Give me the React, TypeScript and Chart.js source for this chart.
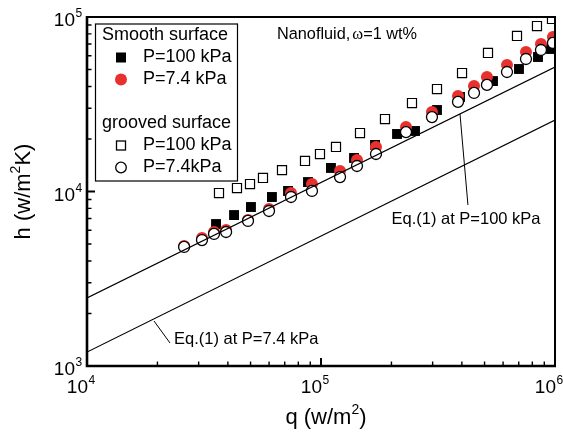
import React, { useEffect, useRef } from "react";
import { Chart, registerables } from "chart.js";

Chart.register(...registerables);

// ---------------- data ----------------
const smooth100Q = [35600, 42500, 50200, 61700, 72300, 88000, 110300, 138400, 170200, 211300, 252200, 313100, 392700, 543300, 701600, 845900, 961300];
const smooth100H = [6510, 7330, 8150, 9300, 10070, 11330, 13640, 15560, 18480, 21360, 22220, 29310, 34800, 42960, 50350, 58990, 65560];

const smooth74Q = [26000, 31000, 34900, 39300, 48750, 59950, 74450, 91500, 120600, 142500, 171800, 230800, 298000, 385000, 450700, 511900, 623500, 751600, 871000, 980000];
const smooth74H = [4870, 5410, 5860, 6020, 6870, 7940, 9800, 11040, 13110, 15150, 17990, 23400, 28550, 35260, 40230, 45300, 53080, 63000, 70000, 76800];

const grooved100Q = [36650, 43750, 49730, 56500, 68130, 85440, 99000, 115900, 146800, 187700, 244800, 313100, 400600, 517200, 688000, 837500, 970900];
const grooved100H = [9800, 10470, 11040, 11950, 13270, 14960, 16400, 17990, 21630, 26020, 32130, 38660, 47750, 62190, 77840, 88800, 97400];

const grooved74Q = [26000, 31000, 34900, 39300, 48750, 59950, 74450, 91500, 120600, 142500, 171800, 230800, 298000, 385000, 450700, 511900, 623500, 751600, 871000, 980000];
const grooved74H = [4810, 5270, 5710, 5860, 6780, 7730, 9300, 10070, 12100, 14000, 16400, 21900, 26700, 32600, 36700, 40800, 48400, 57450, 64700, 71000];

// Eq.(1) correlation lines
const eq100Q = [1e4, 1e6];
const eq100H = [2455, 51700];
const eq74Q = [1e4, 1e6];
const eq74H = [1202, 25700];

// axes
const xMin = 1e4, xMax = 1e6, yMin = 1e3, yMax = 1e5;
const xMajor = [1e4, 1e5, 1e6];
const xMajorExp = ["4", "5", "6"];
const yMajor = [1e3, 1e4, 1e5];
const yMajorExp = ["3", "4", "5"];
const minorMult = [2, 3, 4, 5, 6, 7, 8, 9];

// annotations (data space)
const eq100Label = "Eq.(1) at P=100 kPa";
const eq100LeaderQ = [392600, 424600];
const eq100LeaderH = [27800, 8370];
const eq100LabelAt = [416600, 6950];
const eq74Label = "Eq.(1) at P=7.4 kPa";
const eq74LeaderQ = [19330, 22630];
const eq74LeaderH = [1811, 1355];
const eq74LabelAt = [23540, 1428];
const titleAt = [64860, 78900];

const legendHeaders = ["Smooth surface", "grooved surface"];
const legendLabels = ["P=100 kPa", "P=7.4 kPa", "P=100 kPa", "P=7.4kPa"];

const RED = "#e8312e";
const FONT = '"Liberation Sans", Arial, Helvetica, sans-serif';
const SERIF = '"Liberation Serif", "Times New Roman", serif';

const pts = (q: number[], h: number[]) => q.map((v, i) => ({ x: v, y: h[i] }));

function drawRich(ctx: any, parts: { t: string; sup?: boolean }[], cx: number, cy: number, size: number, supSize: number) {
  const widths = parts.map((p) => {
    ctx.font = `${p.sup ? supSize : size}px ${FONT}`;
    return ctx.measureText(p.t).width;
  });
  const total = widths.reduce((s, w) => s + w, 0);
  let x = cx - total / 2;
  ctx.textAlign = "left";
  ctx.textBaseline = "middle";
  parts.forEach((p, i) => {
    ctx.font = `${p.sup ? supSize : size}px ${FONT}`;
    ctx.fillText(p.t, x, p.sup ? cy - size * 0.35 : cy);
    x += widths[i];
  });
}

function marker(ctx: any, kind: string, x: number, y: number) {
  ctx.save();
  ctx.lineWidth = 1.3;
  ctx.strokeStyle = "#000";
  if (kind === "fsq") {
    ctx.fillStyle = "#000";
    ctx.fillRect(x - 5, y - 5, 10, 10);
  } else if (kind === "rc") {
    ctx.fillStyle = RED;
    ctx.beginPath();
    ctx.arc(x, y, 6, 0, Math.PI * 2);
    ctx.fill();
  } else if (kind === "osq") {
    ctx.fillStyle = "#fff";
    ctx.fillRect(x - 4.5, y - 4.5, 9, 9);
    ctx.strokeRect(x - 4.5, y - 4.5, 9, 9);
  } else {
    ctx.fillStyle = "#fff";
    ctx.beginPath();
    ctx.arc(x, y, 5.3, 0, Math.PI * 2);
    ctx.fill();
    ctx.stroke();
  }
  ctx.restore();
}

const overlayPlugin = {
  id: "overlay",
  afterDatasetsDraw(chart: any) {
    const { ctx, chartArea: a, scales } = chart;
    const xs = scales.x;
    const ys = scales.y;
    ctx.save();
    ctx.fillStyle = "#000";
    ctx.strokeStyle = "#000";

    // frame
    ctx.lineWidth = 2;
    ctx.strokeRect(a.left, a.top, a.right - a.left, a.bottom - a.top);
    ctx.lineWidth = 2.6;
    ctx.beginPath();
    ctx.moveTo(a.left, a.top - 1);
    ctx.lineTo(a.left, a.bottom);
    ctx.lineTo(a.right + 1, a.bottom);
    ctx.stroke();

    // ticks
    ctx.lineWidth = 1.4;
    ctx.beginPath();
    for (let d = xMin; d < xMax; d *= 10) {
      minorMult.forEach((m) => {
        const px = xs.getPixelForValue(d * m);
        ctx.moveTo(px, a.bottom);
        ctx.lineTo(px, a.bottom - 4.5);
      });
    }
    for (let d = yMin; d < yMax; d *= 10) {
      minorMult.forEach((m) => {
        const py = ys.getPixelForValue(d * m);
        ctx.moveTo(a.left, py);
        ctx.lineTo(a.left + 4.5, py);
      });
    }
    ctx.stroke();
    ctx.lineWidth = 2;
    ctx.beginPath();
    xMajor.forEach((v) => {
      const px = xs.getPixelForValue(v);
      ctx.moveTo(px, a.bottom);
      ctx.lineTo(px, a.bottom - 8);
    });
    yMajor.forEach((v) => {
      const py = ys.getPixelForValue(v);
      ctx.moveTo(a.left, py);
      ctx.lineTo(a.left + 8, py);
    });
    ctx.stroke();

    // tick labels
    ctx.textBaseline = "middle";
    xMajor.forEach((v, i) => {
      const px = xs.getPixelForValue(v);
      const py = a.bottom + 22;
      ctx.font = `19px ${FONT}`;
      ctx.textAlign = "right";
      ctx.fillText("10", px + 1, py);
      ctx.font = `12px ${FONT}`;
      ctx.textAlign = "left";
      ctx.fillText(xMajorExp[i], px + 1.5, py - 7);
    });
    yMajor.forEach((v, i) => {
      const py = ys.getPixelForValue(v) + 4;
      ctx.font = `19px ${FONT}`;
      ctx.textAlign = "right";
      ctx.fillText("10", a.left - 12, py);
      ctx.font = `12px ${FONT}`;
      ctx.textAlign = "left";
      ctx.fillText(yMajorExp[i], a.left - 11.5, py - 7);
    });

    // axis titles
    drawRich(ctx, [{ t: "q (w/m" }, { t: "2", sup: true }, { t: ")" }], (a.left + a.right) / 2 + 5, a.bottom + 52, 22, 14);
    ctx.save();
    ctx.translate(a.left - 63, (a.top + a.bottom) / 2);
    ctx.rotate(-Math.PI / 2);
    drawRich(ctx, [{ t: "h (w/m" }, { t: "2", sup: true }, { t: "K)" }], 0, 0, 22, 14);
    ctx.restore();

    // Eq annotations
    ctx.lineWidth = 1;
    ctx.beginPath();
    ctx.moveTo(xs.getPixelForValue(eq100LeaderQ[0]), ys.getPixelForValue(eq100LeaderH[0]));
    ctx.lineTo(xs.getPixelForValue(eq100LeaderQ[1]), ys.getPixelForValue(eq100LeaderH[1]));
    ctx.moveTo(xs.getPixelForValue(eq74LeaderQ[0]), ys.getPixelForValue(eq74LeaderH[0]));
    ctx.lineTo(xs.getPixelForValue(eq74LeaderQ[1]), ys.getPixelForValue(eq74LeaderH[1]));
    ctx.stroke();
    ctx.font = `16.5px ${FONT}`;
    ctx.textBaseline = "middle";
    ctx.textAlign = "center";
    ctx.fillText(eq100Label, xs.getPixelForValue(eq100LabelAt[0]), ys.getPixelForValue(eq100LabelAt[1]));
    ctx.textAlign = "left";
    ctx.fillText(eq74Label, xs.getPixelForValue(eq74LabelAt[0]), ys.getPixelForValue(eq74LabelAt[1]));

    // title text
    let tx = xs.getPixelForValue(titleAt[0]);
    const ty = ys.getPixelForValue(titleAt[1]);
    ctx.font = `16.3px ${FONT}`;
    ctx.fillText("Nanofluid,", tx, ty);
    tx += ctx.measureText("Nanofluid,").width + 2;
    ctx.font = `16.5px ${SERIF}`;
    ctx.fillText("ω", tx, ty);
    tx += ctx.measureText("ω").width;
    ctx.font = `16.3px ${FONT}`;
    ctx.fillText("=1 wt%", tx, ty);

    // legend
    const lx = a.left + 8, ly = a.top + 6.5, lw = 142, lh = 157;
    ctx.fillStyle = "#fff";
    ctx.fillRect(lx, ly, lw, lh);
    ctx.lineWidth = 1.2;
    ctx.strokeRect(lx + 0.5, ly + 0.5, lw, lh);
    ctx.fillStyle = "#000";
    ctx.font = `18px ${FONT}`;
    ctx.textAlign = "left";
    ctx.textBaseline = "middle";
    const rowY = [ly + 12, ly + 34, ly + 56, ly + 100, ly + 122, ly + 144];
    ctx.fillText(legendHeaders[0], lx + 7, rowY[0]);
    ctx.fillText(legendHeaders[1], lx + 7, rowY[3]);
    const kinds = ["fsq", "rc", "osq", "oc"];
    const rows = [rowY[1], rowY[2], rowY[4], rowY[5]];
    rows.forEach((yy, i) => {
      marker(ctx, kinds[i], lx + 26, yy);
      ctx.fillStyle = "#000";
      ctx.font = `18px ${FONT}`;
      ctx.fillText(legendLabels[i], lx + 48, yy);
    });

    ctx.restore();
  },
};

export default function App() {
  const ref = useRef<HTMLCanvasElement | null>(null);
  useEffect(() => {
    if (!ref.current) return;
    const chart = new Chart(ref.current, {
      type: "scatter",
      data: {
        datasets: [
          { type: "line", data: pts(eq100Q, eq100H), borderColor: "#000", borderWidth: 1.2, pointRadius: 0, fill: false, clip: 0 } as any,
          { type: "line", data: pts(eq74Q, eq74H), borderColor: "#000", borderWidth: 1.2, pointRadius: 0, fill: false, clip: 0 } as any,
          { data: pts(grooved74Q, grooved74H), pointStyle: "circle", pointRadius: 5.5, backgroundColor: "#fff", borderColor: "#000", borderWidth: 1.3, clip: 0 } as any,
          { data: pts(smooth74Q, smooth74H), pointStyle: "circle", pointRadius: 6, backgroundColor: RED, borderColor: RED, borderWidth: 0, clip: 0 } as any,
          { data: pts(smooth100Q, smooth100H), pointStyle: "rect", pointRadius: 7, backgroundColor: "#000", borderColor: "#000", borderWidth: 0, clip: 0 } as any,
          { data: pts(grooved100Q, grooved100H), pointStyle: "rect", pointRadius: 6.4, backgroundColor: "#fff", borderColor: "#000", borderWidth: 1.2, clip: 0 } as any,
        ],
      },
      options: {
        responsive: false,
        animation: false,
        events: [],
        layout: { padding: { left: 87, right: 8, top: 17, bottom: 71 } },
        plugins: { legend: { display: false }, tooltip: { enabled: false } },
        scales: {
          x: { type: "logarithmic", min: xMin, max: xMax, display: false },
          y: { type: "logarithmic", min: yMin, max: yMax, display: false },
        },
      } as any,
      plugins: [overlayPlugin],
    });
    return () => chart.destroy();
  }, []);
  return (
    <canvas
      ref={ref}
      width={563}
      height={437}
      style={{ position: "absolute", left: 0, top: 0, width: 563, height: 437, display: "block" }}
    />
  );
}
